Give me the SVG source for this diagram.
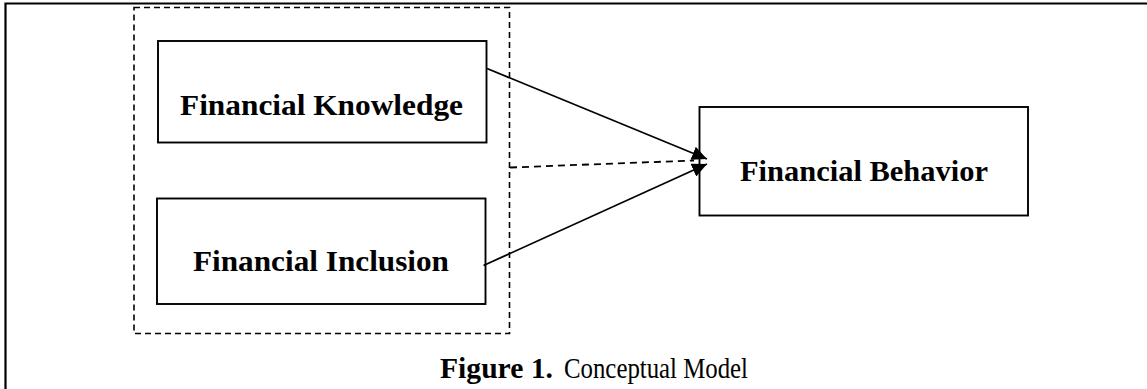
<svg xmlns="http://www.w3.org/2000/svg" width="1147" height="389" viewBox="0 0 1147 389">
  <style>
    .box { fill: #ffffff; stroke: #000000; stroke-width: 1.9; }
    .group { fill: none; stroke: #000000; stroke-width: 1.6; stroke-dasharray: 6 4; }
    .frame { fill: none; stroke: #000000; stroke-width: 2.2; }
    .edge { fill: none; stroke: #000000; stroke-width: 1.8; }
    .edge-dash { fill: none; stroke: #000000; stroke-width: 1.8; stroke-dasharray: 7 5; }
    .label { font-family: "Liberation Serif", "Times New Roman", serif; font-weight: bold; font-size: 29px; fill: #000000; }
    .caption { font-family: "Liberation Serif", "Times New Roman", serif; font-size: 29px; fill: #000000; }
  </style>
  <defs>
    <marker id="arrow" markerUnits="userSpaceOnUse" markerWidth="16" markerHeight="14" refX="15" refY="7" orient="auto">
      <path d="M0,0 L15,7 L0,14 z" fill="#000000"/>
    </marker>
  </defs>

  <rect width="1147" height="389" fill="#ffffff"/>

  <!-- page frame: top rule and left rule -->
  <path class="frame" d="M5.5,389 L5.5,3.5 L1147,3.5"/>

  <!-- dashed grouping around the two predictors -->
  <rect id="predictors" class="group" x="134" y="7.5" width="375.5" height="326"/>

  <g id="financial-knowledge">
    <rect class="box" x="158" y="41" width="328.5" height="101.5"/>
    <text class="label" x="180" y="115" textLength="283" lengthAdjust="spacingAndGlyphs">Financial Knowledge</text>
  </g>

  <g id="financial-inclusion">
    <rect class="box" x="157" y="198.5" width="328.5" height="105.5"/>
    <text class="label" x="193" y="270.5" textLength="256" lengthAdjust="spacingAndGlyphs">Financial Inclusion</text>
  </g>

  <g id="financial-behavior">
    <rect class="box" x="699.5" y="107" width="328.5" height="108.5"/>
    <text class="label" x="740" y="181" textLength="248" lengthAdjust="spacingAndGlyphs">Financial Behavior</text>
  </g>

  <g id="connectors">
    <line class="edge" x1="487" y1="68.5" x2="707" y2="159" marker-end="url(#arrow)"/>
    <line class="edge" x1="483.5" y1="265.5" x2="707" y2="164" marker-end="url(#arrow)"/>
    <line class="edge-dash" x1="510" y1="167.5" x2="694" y2="160.5"/>
  </g>

  <g id="caption">
    <text class="caption" y="378"><tspan x="440" font-weight="bold" textLength="113" lengthAdjust="spacingAndGlyphs">Figure 1.</tspan><tspan x="564" textLength="184" lengthAdjust="spacingAndGlyphs">Conceptual Model</tspan></text>
  </g>
</svg>
